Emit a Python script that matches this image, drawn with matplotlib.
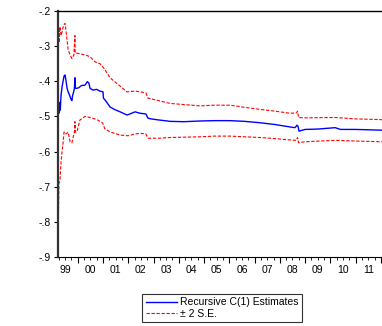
import matplotlib
matplotlib.use("Agg")
import matplotlib.pyplot as plt
from matplotlib.ticker import FixedLocator, FuncFormatter, NullFormatter

plt.rcParams["font.family"] = ["Liberation Sans", "DejaVu Sans"]

# recursive C(1) estimate (x in fractional years)
est_x = [1999.22, 1999.23, 1999.25, 1999.27, 1999.29, 1999.31, 1999.34, 1999.38, 1999.42,
         1999.46, 1999.50, 1999.54, 1999.58, 1999.62, 1999.68, 1999.74, 1999.77, 1999.80,
         1999.84, 1999.87, 1999.89, 1999.90, 1999.97, 2000.05, 2000.15, 2000.29, 2000.38,
         2000.44, 2000.49, 2000.60, 2000.75, 2000.88, 2001.00, 2001.02, 2001.10, 2001.28,
         2001.45, 2001.68, 2001.95, 2002.10, 2002.27, 2002.47, 2002.70, 2002.78, 2002.90,
         2003.20, 2003.66, 2004.20, 2004.84, 2005.40, 2006.03, 2006.60, 2007.22, 2007.80,
         2008.41, 2008.60, 2008.68, 2008.72, 2008.76, 2008.85, 2009.00, 2009.50, 2010.19,
         2010.40, 2011.00, 2011.97, 2012.30]
est_y = [-0.60, -0.50, -0.47, -0.49, -0.46, -0.482, -0.44, -0.416, -0.40,
         -0.385, -0.382, -0.40, -0.42, -0.43, -0.44, -0.452, -0.455, -0.44,
         -0.43, -0.42, -0.39, -0.42, -0.42, -0.418, -0.412, -0.411, -0.401,
         -0.405, -0.42, -0.425, -0.423, -0.428, -0.430, -0.448, -0.455, -0.473,
         -0.48, -0.487, -0.496, -0.492, -0.487, -0.491, -0.493, -0.505, -0.507,
         -0.510, -0.514, -0.515, -0.513, -0.512, -0.512, -0.514, -0.518, -0.523,
         -0.530, -0.532, -0.525, -0.528, -0.542, -0.540, -0.537, -0.536, -0.532,
         -0.537, -0.537, -0.539, -0.540]

up_x = [1999.22, 1999.225, 1999.235, 1999.245, 1999.26, 1999.28, 1999.30, 1999.34, 1999.38,
        1999.44, 1999.50, 1999.56, 1999.62, 1999.70, 1999.77, 1999.85, 1999.89, 1999.90,
        1999.97, 2000.10, 2000.29, 2000.49, 2000.69, 2000.88, 2001.04, 2001.28, 2001.68,
        2001.95, 2002.27, 2002.47, 2002.70, 2002.78, 2003.20, 2003.66, 2004.84, 2005.40,
        2006.03, 2006.60, 2007.22, 2007.80, 2008.41, 2008.66, 2008.70, 2008.74, 2009.00,
        2010.19, 2011.00, 2011.97, 2012.30]
up_y = [-0.36, -0.22, -0.30, -0.25, -0.29, -0.26, -0.245, -0.27, -0.26,
        -0.24, -0.235, -0.27, -0.31, -0.325, -0.335, -0.325, -0.27, -0.32,
        -0.32, -0.322, -0.325, -0.33, -0.345, -0.35, -0.363, -0.39, -0.414,
        -0.43, -0.428, -0.43, -0.433, -0.448, -0.455, -0.463, -0.47, -0.468,
        -0.468, -0.474, -0.48, -0.485, -0.491, -0.49, -0.485, -0.503, -0.504,
        -0.503, -0.507, -0.509, -0.51]

lo_x = [1999.22, 1999.26, 1999.30, 1999.34, 1999.38, 1999.42, 1999.46, 1999.54, 1999.62,
        1999.70, 1999.77, 1999.88, 1999.89, 1999.90, 1999.97, 2000.09, 2000.29, 2000.49,
        2000.76, 2000.99, 2001.07, 2001.28, 2001.68, 2001.99, 2002.27, 2002.47, 2002.70,
        2002.78, 2003.20, 2003.66, 2004.84, 2005.40, 2006.03, 2006.60, 2007.22, 2007.80,
        2008.41, 2008.66, 2008.70, 2008.74, 2009.00, 2010.19, 2011.00, 2011.97, 2012.30]
lo_y = [-0.85, -0.69, -0.68, -0.63, -0.60, -0.576, -0.544, -0.55, -0.545,
        -0.572, -0.575, -0.54, -0.515, -0.545, -0.544, -0.51, -0.50, -0.503,
        -0.509, -0.519, -0.535, -0.544, -0.553, -0.555, -0.55, -0.548, -0.55,
        -0.562, -0.562, -0.56, -0.558, -0.556, -0.556, -0.558, -0.56, -0.563,
        -0.567, -0.568, -0.56, -0.575, -0.572, -0.568, -0.57, -0.572, -0.572]

years = list(range(1999, 2012))
year_labels = ["99", "00", "01", "02", "03", "04", "05", "06", "07", "08", "09", "10", "11"]
y_ticks = [-0.9, -0.8, -0.7, -0.6, -0.5, -0.4, -0.3, -0.2]

fig = plt.figure(figsize=(3.82, 3.26), dpi=100)
ax = fig.add_axes([58 / 382, 69 / 326, 333 / 382, 246 / 326])

ax.plot(est_x, est_y, color="#0000ff", lw=1.0, label="Recursive C(1) Estimates")
ax.plot(up_x, up_y, color="#ff0000", lw=0.8, ls=(0, (3, 1.5)), label="± 2 S.E.")
ax.plot(lo_x, lo_y, color="#ff0000", lw=0.8, ls=(0, (3, 1.5)))

ax.set_xlim(1999.22, 2012.4)
ax.set_ylim(-0.9, -0.2)

# year boundaries as major ticks, quarters as minor, labels at mid-year
ax.xaxis.set_major_locator(FixedLocator([y + 1 for y in years]))
ax.xaxis.set_major_formatter(NullFormatter())
quarters = [y + q / 4 for y in range(1999, 2013) for q in (1, 2, 3)]
ax.xaxis.set_minor_locator(FixedLocator(quarters))
ax.tick_params(axis="x", which="major", length=4, width=0.8, direction="out")
ax.tick_params(axis="x", which="minor", length=2, width=0.6, direction="out")
for y, lab in zip(years, year_labels):
    ax.text(y + 0.5, -0.922, lab, ha="center", va="top", fontsize=7.5,
            transform=ax.transData)

ax.set_yticks(y_ticks)
ax.yaxis.set_major_formatter(FuncFormatter(lambda v, p: ("%.1f" % v).replace("0.", ".")))
ax.tick_params(axis="y", length=3, width=0.8, labelsize=7.5, pad=2)

ax.spines["left"].set_linewidth(1.6)
ax.spines["left"].set_color("#333333")
ax.spines["top"].set_linewidth(1.0)
ax.spines["bottom"].set_linewidth(0.8)
ax.spines["right"].set_visible(False)

fig.legend(loc="center", bbox_to_anchor=(222 / 382, 18 / 326), fontsize=7.5,
           frameon=True, fancybox=False, edgecolor="black", handlelength=3.0,
           handletextpad=0.3, borderpad=0.3, labelspacing=0.1, borderaxespad=0)
fig.legends[0].get_frame().set_linewidth(0.8)

fig.savefig("out.png", dpi=100)
